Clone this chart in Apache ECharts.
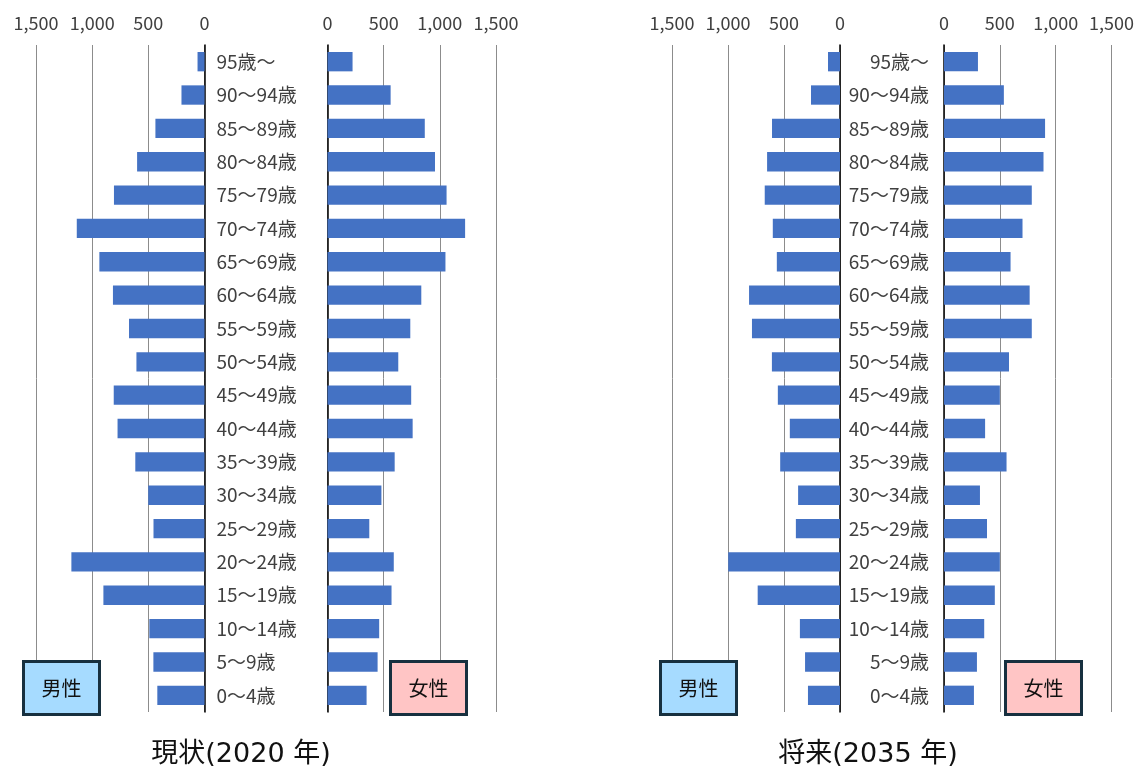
<!DOCTYPE html>
<html>
<head>
<meta charset="utf-8">
<script src="https://cdn.jsdelivr.net/npm/echarts@6/dist/echarts.min.js"></script>
<style>
  html, body { margin: 0; padding: 0; background: #fff; }
  #main { width: 1137px; height: 769px; }
</style>
</head>
<body>
<div id="main"></div>
<script>
// 年齢階級（上から順）
const ages = ['95歳〜', '90〜94歳', '85〜89歳', '80〜84歳', '75〜79歳', '70〜74歳', '65〜69歳',
  '60〜64歳', '55〜59歳', '50〜54歳', '45〜49歳', '40〜44歳', '35〜39歳', '30〜34歳',
  '25〜29歳', '20〜24歳', '15〜19歳', '10〜14歳', '5〜9歳', '0〜4歳'];

// 現状(2020年)
const male2020 = [62, 205, 437, 600, 806, 1137, 936, 815, 672, 606, 808, 774, 616, 501, 454, 1185, 900, 491, 455, 420];
const female2020 = [223, 562, 866, 957, 1060, 1225, 1050, 835, 737, 630, 745, 758, 598, 480, 372, 590, 570, 460, 446, 348];

// 将来(2035年)
const male2035 = [107, 259, 607, 651, 672, 600, 564, 812, 786, 608, 555, 448, 534, 374, 394, 998, 735, 358, 312, 286];
const female2035 = [304, 536, 905, 891, 786, 703, 596, 767, 786, 582, 500, 368, 560, 322, 385, 500, 455, 360, 295, 268];

const xTicks = [0, 500, 1000, 1500];
const panelTitles = ['現状(2020 年)', '将来(2035 年)'];

const FONT = '"Noto Sans CJK JP", "Noto Sans", sans-serif';
const TITLE_FONT = '"DejaVu Sans", "Noto Sans CJK JP", sans-serif';
const BAR = '#4472C4';

var chart = echarts.init(document.getElementById('main'));

const grids = [
  { left: 36, top: 45, width: 168.5, height: 667 },
  { left: 327.5, top: 45, width: 168.5, height: 667 },
  { left: 672, top: 45, width: 168, height: 667 },
  { left: 944, top: 45, width: 168.5, height: 667 }
];

const male = [true, false, true, false];

const xAxes = grids.map((g, i) => ({
  type: 'value',
  gridIndex: i,
  position: 'top',
  inverse: male[i],
  min: xTicks[0],
  max: xTicks[xTicks.length - 1],
  interval: 500,
  axisLine: { show: false },
  axisTick: { show: false },
  axisLabel: {
    margin: 13,
    fontSize: 18,
    fontFamily: FONT,
    color: '#404040',
    formatter: v => v.toLocaleString('en-US')
  },
  splitLine: { show: true, lineStyle: { color: '#8c8c8c', width: 1 } }
}));

const yAxes = grids.map((g, i) => ({
  type: 'category',
  gridIndex: i,
  data: ages,
  inverse: true,
  position: male[i] ? 'right' : 'left',
  axisLine: { show: true, onZero: false, lineStyle: { color: '#000', width: 1.5 } },
  axisTick: { show: false },
  axisLabel: {
    show: i === 0 || i === 3,
    align: i === 0 ? 'left' : 'right',
    margin: i === 0 ? 12 : 15,
    fontSize: 19,
    fontFamily: FONT,
    color: '#404040'
  }
}));

const seriesData = [male2020, female2020, male2035, female2035];

const series = seriesData.map((d, i) => ({
  type: 'bar',
  xAxisIndex: i,
  yAxisIndex: i,
  data: d,
  barCategoryGap: '42%',
  itemStyle: { color: BAR },
  silent: true
}));

function legendBox(x, text, fill) {
  return {
    type: 'group',
    left: x,
    top: 660,
    z: 100,
    children: [
      {
        type: 'rect',
        z: 100,
        shape: { x: 0, y: 0, width: 76, height: 53 },
        style: { fill: fill, stroke: '#17303f', lineWidth: 3 }
      },
      {
        type: 'text',
        z: 101,
        x: 38,
        y: 27,
        style: {
          text: text,
          fontSize: 20,
          fontFamily: FONT,
          fill: '#111',
          align: 'center',
          verticalAlign: 'middle'
        }
      }
    ]
  };
}

chart.setOption({
  animation: false,
  backgroundColor: '#fff',
  grid: grids,
  xAxis: xAxes,
  yAxis: yAxes,
  series: series,
  graphic: [
    legendBox(22, '男性', '#a6dbff'),
    legendBox(389, '女性', '#ffc5c5'),
    legendBox(659, '男性', '#a6dbff'),
    legendBox(1004, '女性', '#ffc5c5'),
    {
      type: 'text',
      x: 241, y: 755,
      style: { text: panelTitles[0], fontSize: 27, fontFamily: TITLE_FONT, fill: '#111', align: 'center', verticalAlign: 'middle' }
    },
    {
      type: 'text',
      x: 868, y: 755,
      style: { text: panelTitles[1], fontSize: 27, fontFamily: TITLE_FONT, fill: '#111', align: 'center', verticalAlign: 'middle' }
    }
  ]
});

window.addEventListener('resize', function () {
  chart.resize();
});
</script>
</body>
</html>
